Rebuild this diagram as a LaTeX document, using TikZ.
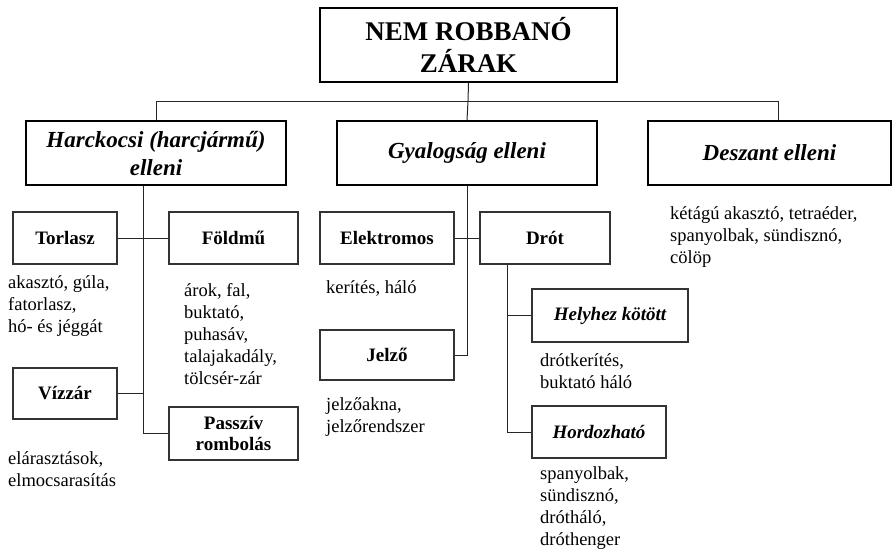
\documentclass[tikz,border=0pt]{standalone}
\usepackage{fontspec}
\setmainfont{Liberation Serif}
\begin{document}
\begin{tikzpicture}[x=1pt,y=-1pt,
 titlebox/.style={draw, line width=2pt, inner sep=0, align=center, font=\fontsize{27}{32}\selectfont\bfseries},
 headbox/.style={draw, line width=1.8pt, inner sep=0, align=center, minimum height=64pt, font=\fontsize{23}{28}\selectfont\bfseries\itshape},
 subbox/.style={draw=black!80, line width=1.2pt, inner sep=0, align=center, font=\fontsize{19}{21}\selectfont\bfseries},
 subit/.style={subbox, font=\fontsize{19}{21}\selectfont\bfseries\itshape},
 txt/.style={anchor=west, inner sep=0, align=left, font=\fontsize{18.5}{21.8}\selectfont},
 conn/.style={line width=1pt, draw=black!85}]
\useasboundingbox (0,0) rectangle (893,550);
% top
\node[titlebox, minimum width=297pt, minimum height=74pt] (title) at (468.5,45) {NEM ROBBANÓ\\ZÁRAK};
\node[headbox, minimum width=260pt] (harck) at (156,153) {Harckocsi (harcjármű)\\elleni};
\node[headbox, minimum width=260pt] (gyalog) at (467,153) {Gyalogság elleni};
\node[headbox, minimum width=243pt] (deszant) at (769.5,153) {Deszant elleni};
% left branch
\node[subbox, minimum width=104pt, minimum height=52pt] (torlasz) at (65,238) {Torlasz};
\node[subbox, minimum width=129pt, minimum height=52pt] (foldmu) at (233.5,238) {Földmű};
\node[subbox, minimum width=104pt, minimum height=51pt] (vizzar) at (65,393.5) {Vízzár};
\node[subbox, minimum width=129pt, minimum height=53pt] (passziv) at (233.5,433.5) {Passzív\\rombolás};
% middle branch
\node[subbox, minimum width=134pt, minimum height=52pt] (elektro) at (387,238) {Elektromos};
\node[subbox, minimum width=130pt, minimum height=52pt] (drot) at (545,238) {Drót};
\node[subbox, minimum width=134pt, minimum height=50pt] (jelzo) at (387,355) {Jelző};
\node[subit, minimum width=156pt, minimum height=53pt] (helyhez) at (610,315.5) {Helyhez kötött};
\node[subit, minimum width=134pt, minimum height=52pt] (hordoz) at (599,432) {Hordozható};
% texts
\node[txt] (t1) at (8,306) {akasztó, gúla,\\fatorlasz,\\hó- és jéggát};
\node[txt] (t2) at (184,334) {árok, fal,\\buktató,\\puhasáv,\\talajakadály,\\tölcsér-zár};
\node[txt] (t3) at (8,469) {elárasztások,\\elmocsarasítás};
\node[txt] (t4) at (326,288) {kerítés, háló};
\node[txt] (t5) at (326,417) {jelzőakna,\\jelzőrendszer};
\node[txt] (t6) at (540,371) {drótkerítés,\\buktató háló};
\node[txt] (t7) at (540,508) {spanyolbak,\\sündisznó,\\drótháló,\\dróthenger};
\node[txt] (t8) at (670,237) {kétágú akasztó, tetraéder,\\spanyolbak, sündisznó,\\cölöp};
% connectors
\coordinate (bus) at (468,101);
\coordinate (dtop) at (778,101);
\draw[conn] (title.south) -- (bus);
\draw[conn] (harck.north) |- (dtop) -- (dtop |- deszant.north);
\draw[conn] (bus) -- (gyalog.north);
\coordinate (hv) at ([xshift=-13pt]harck.south);
\draw[conn] (hv) |- (passziv.west);
\draw[conn] (torlasz.east) -- (foldmu.west);
\draw[conn] (vizzar.east) -- (vizzar.east -| hv);
\draw[conn] (gyalog.south) |- (jelzo.east);
\draw[conn] (elektro.east) -- (drot.west);
\coordinate (dv) at ([xshift=-38pt]drot.south);
\draw[conn] (dv) |- (hordoz.west);
\draw[conn] (helyhez.west) -- (helyhez.west -| dv);
\end{tikzpicture}
\end{document}
